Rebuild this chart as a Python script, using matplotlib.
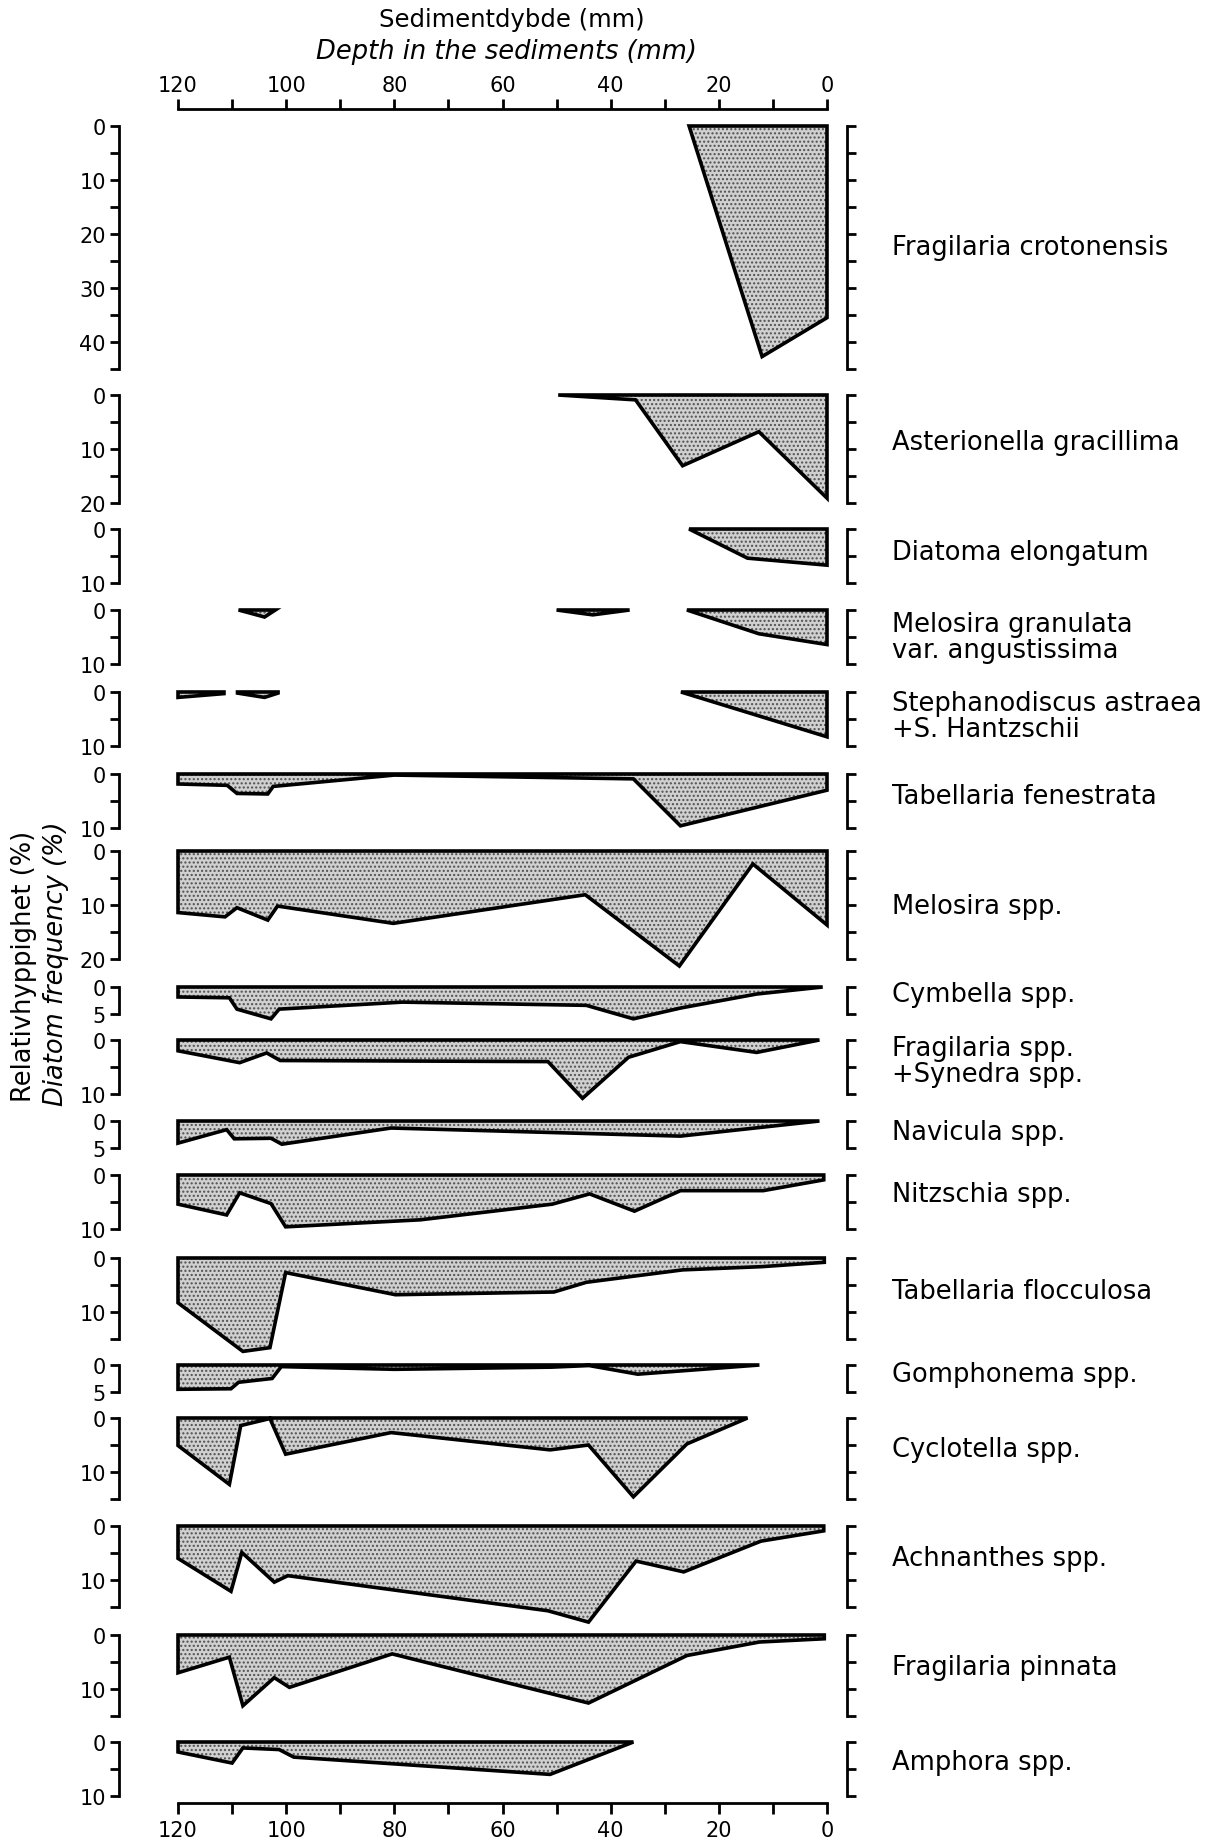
import numpy as np
import matplotlib
matplotlib.use('Agg')
import matplotlib.pyplot as plt
from matplotlib import font_manager

# --- data: depth in sediment (mm) and diatom frequency (%) per taxon ---
# NaN separates unconnected parts of the same curve
frag_croto_mm = [25.5, 12, 0]
frag_croto_pct = [0, 42.7, 35.5]

asterion_mm = [49.7, 35.4, 26.7, 12.6, 0]
asterion_pct = [0, 0.9, 13.1, 6.8, 19.1]

diatoma_mm = [25.5, 14.7, 0]
diatoma_pct = [0, 5.4, 6.7]

mel_gran_mm = [108.8, 104, 102, np.nan, 50, 43.3, 36.5, np.nan, 25.9, 12.6, 0]
mel_gran_pct = [0, 1.3, 0, np.nan, 0, 0.9, 0, np.nan, 0, 4.4, 6.4]

stephano_mm = [120, 111.5, np.nan, 109, 104, 101.5, np.nan, 27, 0]
stephano_pct = [1.0, 0.3, np.nan, 0.2, 1.0, 0.2, np.nan, 0, 8.3]

tab_fen_mm = [120, 110.9, 109.1, 103.4, 102.4, 80, 35.8, 27.1, 0]
tab_fen_pct = [1.85, 2.1, 3.6, 3.7, 2.3, 0.2, 0.9, 9.6, 3.0]

melosira_mm = [120, 111.3, 109.1, 103.4, 101.6, 80.2, 44.7, 27.3, 13.7, 0]
melosira_pct = [11.4, 12.2, 10.5, 12.8, 10.2, 13.4, 8.1, 21.3, 2.4, 13.7]

cymbella_mm = [120, 110.5, 109.1, 102.8, 101.3, 78.5, 44.5, 35.8, 27.1, 13, 0.8]
cymbella_pct = [1.85, 2.0, 4.1, 5.9, 4.1, 2.8, 3.4, 5.9, 3.9, 1.3, 0]

frag_spp_mm = [120, 108.6, 103.6, 101.1, 51.6, 45.2, 36.7, 27.1, 13, 1.4]
frag_spp_pct = [2.0, 4.2, 2.4, 3.8, 4.0, 10.8, 3.2, 0.3, 2.3, 0]

navicula_mm = [120, 111, 109.6, 102.8, 100.8, 80.6, 27.1, 1.4]
navicula_pct = [4.1, 1.6, 3.3, 3.2, 4.3, 1.3, 2.8, 0]

nitzschia_mm = [120, 111, 108.6, 102.8, 100.1, 75.2, 50.8, 43.9, 35.6, 27.1, 11.8, 0.6]
nitzschia_pct = [5.4, 7.4, 3.3, 5.3, 9.6, 8.3, 5.4, 3.5, 6.7, 2.9, 2.9, 0.9]

tab_floc_mm = [120, 108, 103, 100.1, 79.8, 50.5, 44.5, 26.7, 12, 0.5]
tab_floc_pct = [8.3, 17.3, 16.6, 2.7, 6.8, 6.3, 4.5, 2.2, 1.6, 0.8]

gompho_mm = [120, 110.2, 108.8, 102.6, 100.9, 80, 51, 44, 35, 12.5]
gompho_pct = [4.5, 4.4, 3.2, 2.5, 0.3, 0.8, 0.4, 0.1, 1.7, 0]

cyclo_mm = [120, 110.5, 108.4, 103, 100.1, 80.6, 51.2, 44.1, 35.8, 25.9, 14.7]
cyclo_pct = [5.1, 12.3, 1.4, 0.1, 6.7, 2.7, 5.9, 5.0, 14.6, 4.8, 0]

achnan_mm = [120, 110.2, 108.2, 102.2, 99.7, 51.6, 44.1, 35.3, 26.5, 12.2, 0.6]
achnan_pct = [6.0, 12.1, 4.9, 10.4, 9.2, 15.7, 17.8, 6.5, 8.5, 2.8, 0.9]

frag_pin_mm = [120, 110.5, 108, 102.2, 99.4, 80.4, 44.1, 25.9, 12.5, 0.5]
frag_pin_pct = [7.0, 4.1, 13.1, 7.9, 9.7, 3.5, 12.6, 3.8, 1.3, 0.7]

amphora_mm = [120, 110, 108, 101.3, 98.6, 51.2, 35.8]
amphora_pct = [1.85, 3.9, 1.1, 1.4, 2.8, 6.0, 0]

taxa = ['Fragilaria crotonensis', 'Asterionella gracillima', 'Diatoma elongatum',
        'Melosira granulata\nvar. angustissima', 'Stephanodiscus astraea\n+S. Hantzschii',
        'Tabellaria fenestrata', 'Melosira spp.', 'Cymbella spp.',
        'Fragilaria spp.\n+Synedra spp.', 'Navicula spp.', 'Nitzschia spp.',
        'Tabellaria flocculosa', 'Gomphonema spp.', 'Cyclotella spp.',
        'Achnanthes spp.', 'Fragilaria pinnata', 'Amphora spp.']
scale_max = [45, 20, 10, 10, 10, 10, 20, 5, 10, 5, 10, 15, 5, 15, 15, 15, 10]

curves = [(frag_croto_mm, frag_croto_pct), (asterion_mm, asterion_pct),
          (diatoma_mm, diatoma_pct), (mel_gran_mm, mel_gran_pct),
          (stephano_mm, stephano_pct), (tab_fen_mm, tab_fen_pct),
          (melosira_mm, melosira_pct), (cymbella_mm, cymbella_pct),
          (frag_spp_mm, frag_spp_pct), (navicula_mm, navicula_pct),
          (nitzschia_mm, nitzschia_pct), (tab_floc_mm, tab_floc_pct),
          (gompho_mm, gompho_pct), (cyclo_mm, cyclo_pct),
          (achnan_mm, achnan_pct), (frag_pin_mm, frag_pin_pct),
          (amphora_mm, amphora_pct)]

# --- layout (pixels of the 1215x1849 image) ---
W, H = 1215, 1849
panel_top = [127, 396, 530, 611, 693, 775, 852, 988, 1041, 1122, 1176,
             1259, 1366, 1419, 1527, 1636, 1743]
label_y = [248, 443, 553, 638, 717, 797, 907, 995, 1062, 1133, 1195,
           1292, 1375, 1450, 1559, 1668, 1763]
PX = 5.4            # pixels per percent
X0, X1 = 178, 827   # 120 mm and 0 mm
SP_L, SP_R = 119, 847
mm_px = (X1 - X0) / 120.0

names = {f.name for f in font_manager.fontManager.ttflist}
if 'Liberation Sans Narrow' in names:
    num_font, num_size = 'Liberation Sans Narrow', 19
else:
    num_font, num_size = 'DejaVu Sans', 15

plt.rcParams['hatch.linewidth'] = 1.0
plt.rcParams['font.family'] = 'DejaVu Sans'


def fx(x):
    return x / W


def fy(y):
    return 1 - y / H


fig = plt.figure(figsize=(W / 100, H / 100), dpi=100)

xl = (120 + (X0 - SP_L) / mm_px, -(SP_R - X1) / mm_px)

for i, name in enumerate(taxa):
    top, ymax = panel_top[i], scale_max[i]
    h = ymax * PX
    ax = fig.add_axes([fx(SP_L), fy(top + h), (SP_R - SP_L) / W, h / H])
    ax.set_xlim(*xl)
    ax.set_ylim(ymax, 0)
    ax.patch.set_visible(False)
    ax.spines['top'].set_visible(False)
    ax.spines['bottom'].set_visible(False)
    ax.spines['left'].set_linewidth(2.0)
    ax.spines['right'].set_linewidth(2.0)
    ax.set_xticks([])
    ticks = np.arange(0, ymax + 1, 5)
    ax.set_yticks(ticks)
    ax.set_yticklabels([str(t) if (t % 10 == 0 or ymax == 5) else '' for t in ticks],
                       fontfamily=num_font, fontsize=num_size)
    ax.tick_params(axis='y', direction='out', length=6.5, width=2.0,
                   left=True, right=True, labelleft=True, labelright=False, pad=3)

    d = np.array(curves[i][0], dtype=float)
    v = np.array(curves[i][1], dtype=float)
    ax.fill_between(d, 0, v, facecolor='#d0d0d0', edgecolor='#505050',
                    hatch='....', linewidth=0, clip_on=False)
    ax.fill_between(d, 0, v, facecolor='none', edgecolor='black',
                    linewidth=2.6, joinstyle='miter', clip_on=False)

    fig.text(fx(892), fy(label_y[i]), name, fontsize=18.5, ha='left',
             va='center', linespacing=1.0)

# depth scales at top and bottom
depth_ticks = np.arange(0, 121, 10)
depth_labels = [str(t) if t % 20 == 0 else '' for t in depth_ticks]

axt = fig.add_axes([fx(X0), fy(111), (X1 - X0) / W, 1 / H])
axt.set_xlim(120, 0)
axt.patch.set_visible(False)
axt.set_yticks([])
for s in ['left', 'right', 'bottom']:
    axt.spines[s].set_visible(False)
axt.spines['top'].set_linewidth(2.0)
axt.xaxis.tick_top()
axt.set_xticks(depth_ticks)
axt.set_xticklabels(depth_labels, fontfamily=num_font, fontsize=num_size)
axt.tick_params(axis='x', direction='out', length=7.2, width=2.0, pad=3)

axb = fig.add_axes([fx(X0), fy(1804), (X1 - X0) / W, 1 / H])
axb.set_xlim(120, 0)
axb.patch.set_visible(False)
axb.set_yticks([])
for s in ['left', 'right', 'top']:
    axb.spines[s].set_visible(False)
axb.spines['bottom'].set_linewidth(2.0)
axb.set_xticks(depth_ticks)
axb.set_xticklabels(depth_labels, fontfamily=num_font, fontsize=num_size)
axb.tick_params(axis='x', direction='out', length=8, width=2.0, pad=4)

fig.text(fx(512), fy(20), 'Sedimentdybde (mm)', fontsize=17.5, ha='center', va='center')
fig.text(fx(506), fy(52), 'Depth in the sediments (mm)', fontsize=18.5,
         style='italic', ha='center', va='center')

fig.text(fx(24), fy(966), 'Relativhyppighet (%)', fontsize=18.5, rotation=90,
         ha='center', va='center')
fig.text(fx(56), fy(964), 'Diatom frequency (%)', fontsize=18.5, rotation=90,
         style='italic', ha='center', va='center')

fig.savefig('out.png', dpi=100)
